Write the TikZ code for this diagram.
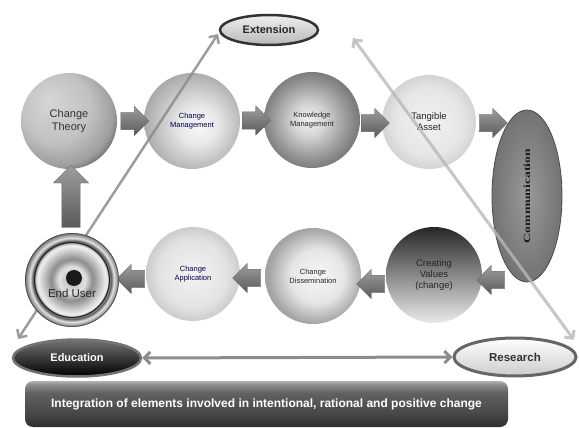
\documentclass[tikz,border=0pt]{standalone}
\usepackage{fontspec}
\setmainfont{Liberation Sans}
\newfontfamily\serifb{Liberation Serif}
\usetikzlibrary{shapes.geometric,shapes.arrows,arrows.meta,calc}

\pgfdeclareradialshading{sphct}{\pgfpoint{-11bp}{11bp}}{color(0bp)=(black!16); color(18bp)=(black!24); color(28bp)=(black!38); color(35bp)=(black!75); color(40bp)=(black!62); color(50bp)=(black!62)}
\pgfdeclareradialshading{sphcm}{\pgfpoint{4bp}{-3bp}}{color(0bp)=(black!3); color(10bp)=(black!9); color(22bp)=(black!26); color(30bp)=(black!38); color(50bp)=(black!38)}
\pgfdeclareradialshading{sphkm}{\pgfpoint{-2bp}{0bp}}{color(0bp)=(black!6); color(8bp)=(black!16); color(20bp)=(black!42); color(27bp)=(black!55); color(50bp)=(black!55)}
\pgfdeclareradialshading{sphta}{\pgfpoint{0bp}{0bp}}{color(0bp)=(black!5); color(18bp)=(black!10); color(25bp)=(black!17); color(50bp)=(black!17)}
\pgfdeclareradialshading{sphcd}{\pgfpoint{3bp}{0bp}}{color(0bp)=(black!3); color(14bp)=(black!10); color(25bp)=(black!36); color(50bp)=(black!36)}
\pgfdeclareradialshading{sphca}{\pgfpoint{0bp}{0bp}}{color(0bp)=(black!5); color(18bp)=(black!11); color(25bp)=(black!20); color(50bp)=(black!20)}
\pgfdeclareradialshading{enduser}{\pgfpoint{0bp}{0bp}}{color(0bp)=(black!30); color(7bp)=(black!12); color(11bp)=(black!45); color(16bp)=(black!18); color(18.5bp)=(black!5); color(20.8bp)=(black!65); color(22.3bp)=(black!10); color(25bp)=(black!58); color(50bp)=(black!58)}
\pgfdeclareverticalshading{bannersh}{100bp}{color(0bp)=(black!80); color(25bp)=(black!82); color(40bp)=(black!72); color(62bp)=(black!62); color(71bp)=(black!45); color(75bp)=(black!30); color(100bp)=(black!30)}

\begin{document}
\begin{tikzpicture}[x=1pt,y=-1pt,
  sphere/.style={circle, minimum size=#1, inner sep=0pt, align=center, text=black!85},
  blockarrow/.style={single arrow, draw=black!60, line width=0.3pt, top color=black!38, bottom color=black!65,
    inner xsep=0pt, inner ysep=8.5pt, single arrow head extend=6pt, minimum height=28pt},
  thinlink/.style={line width=2.5pt, {Straight Barb[length=6pt,width=12pt]}-{Straight Barb[length=6pt,width=12pt]}},
  small/.style={font=\fontsize{7.5}{9}\selectfont},
  mid/.style={font=\fontsize{9.5}{11}\selectfont},
]
\useasboundingbox (0,0) rectangle (579,428);

% spheres (upper row)
\node[sphere=96pt, shading=sphct, font=\fontsize{11}{13}\selectfont, text=black!80] (ct) at (69,121) {Change\\Theory};
\node[sphere=96pt, shading=sphcm, small, text=blue!30!black] (cm) at (192,121) {Change\\Management};
\node[sphere=96pt, shading=sphkm, small] (km) at (312,120) {Knowledge\\Management};
\node[sphere=94pt, shading=sphta, mid] (ta) at (429,122) {Tangible\\Asset};

% spheres (lower row)
\node[sphere=96pt, top color=black!85, middle color=black!30, bottom color=black!8, mid] (cv) at (434,275) {Creating\\Values\\(change)};
\node[sphere=96pt, shading=sphcd, small] (cd) at (313,276) {Change\\Dissemination};
\node[sphere=94pt, shading=sphca, small, text=blue!30!black] (ca) at (193,274) {Change\\Application};

% ellipses
\node[ellipse, minimum width=98pt, minimum height=30pt, inner sep=0pt, draw=black!80, line width=2.5pt,
  top color=black!6, bottom color=black!28, font=\bfseries\fontsize{11}{13}\selectfont, text=black!85] (ext) at (269,30) {Extension};
\node[ellipse, minimum width=70pt, minimum height=172pt, inner sep=0pt, draw=black!70, line width=0.8pt,
  inner color=black!40, outer color=black!55] (comm) at (527,196) {};
\node[rotate=90, font=\serifb\bfseries\fontsize{10.5}{12}\selectfont, text=black!90] (commt) at (comm.center) {\scalebox{1.3}[0.9]{Communication}};
\node[ellipse, minimum width=128pt, minimum height=37pt, inner sep=0pt, draw=black!55, line width=2.5pt,
  top color=black!55, middle color=black, bottom color=black, font=\bfseries\fontsize{11}{13}\selectfont, text=white] (edu) at (77,358) {Education};
\node[ellipse, minimum width=122pt, minimum height=38pt, inner sep=0pt, draw=black!60, line width=3pt,
  top color=white, bottom color=black!20, font=\bfseries\fontsize{11.5}{13}\selectfont, text=black!80] (res) at (515,357) {Research};

% block arrows
\node[blockarrow] (a1) at ($(ct.east)!0.5!(cm.west)$) {};
\node[blockarrow] (a2) at ($(cm.east)!0.5!(km.west)$) {};
\node[blockarrow] (a3) at ($(km.east)!0.5!(ta.west)+(0,2)$) {};
\node[blockarrow] (a4) at (489,123) {};
\node[blockarrow, rotate=180] (a5) at (495,280) {};
\node[blockarrow, rotate=180] (a6) at (375,284) {};
\node[blockarrow, rotate=180] (a7) at (251,278) {};
\node[blockarrow, rotate=180] (a8) at (135,279) {};
\node[blockarrow, rotate=90, minimum height=62pt, inner ysep=9pt, single arrow head extend=8.5pt] (a9) at (71,201) {};

% thin links
\coordinate (l1a) at (18,339);
\coordinate (l1b) at (218,34);
\coordinate (l2a) at (353,38);
\coordinate (l2b) at (574,340);
\draw[thinlink, black!45, opacity=0.85] (l1a) -- (l1b);
\draw[thinlink, black!28, line width=3pt, opacity=0.8] (l2a) -- (l2b);
\draw[thinlink, black!45, line width=3pt] (edu.east) -- (res.west);

% end user target
\node[circle, minimum size=94pt, inner sep=0pt, shading=enduser] (eu) at (72,280) {};
\draw[black!85, line width=1.2pt] (eu.center) circle[radius=37.5pt];
\draw[black!70, line width=0.6pt] (eu.center) circle[radius=46.5pt];
\fill[black!90] ($(eu.center)+(2,-2)$) circle[radius=8pt];
\node[font=\fontsize{11.5}{13}\selectfont, text=black!85] (eut) at (72,293) {End User};

% banner
\node[rectangle, rounded corners=8pt, minimum width=483pt, minimum height=46pt, inner sep=0pt, shading=bannersh,
  font=\bfseries\fontsize{12}{14}\selectfont, text=white] (bn) at (266.5,404)
  {Integration of elements involved in intentional, rational and positive change};
\end{tikzpicture}
\end{document}
